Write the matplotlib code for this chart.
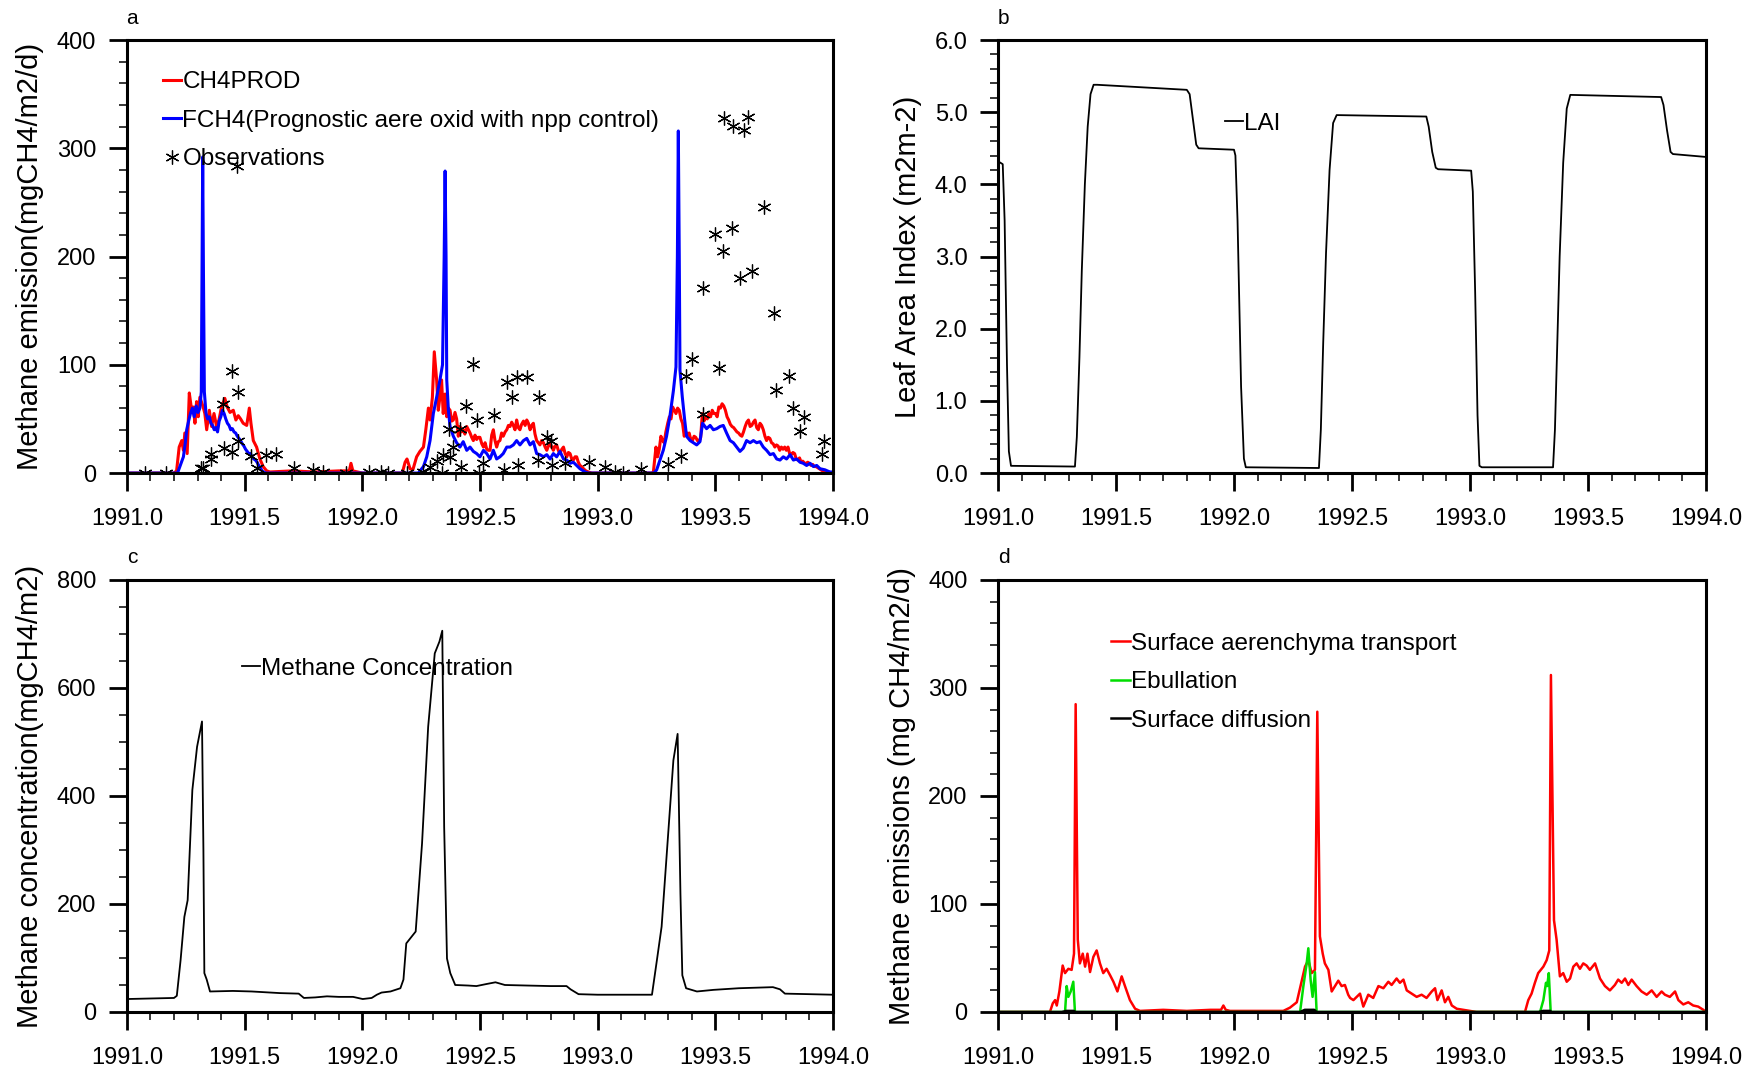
import matplotlib
matplotlib.use('Agg')
import matplotlib.pyplot as plt
from matplotlib.ticker import MultipleLocator, FormatStrFormatter

plt.rcParams['font.family'] = ['Liberation Sans', 'DejaVu Sans']

# ---- panel a: methane emission ----
t_prod = [1991.0, 1991.200, 1991.211, 1991.222, 1991.233, 1991.240, 1991.246, 1991.256, 1991.265, 1991.275,
          1991.282, 1991.289, 1991.296, 1991.303, 1991.310, 1991.324, 1991.331, 1991.339, 1991.350, 1991.360,
          1991.370, 1991.381, 1991.391, 1991.402, 1991.416, 1991.426, 1991.438, 1991.452, 1991.463, 1991.473,
          1991.483, 1991.494, 1991.509, 1991.520, 1991.527, 1991.537, 1991.551, 1991.565, 1991.579, 1991.594,
          1991.608, 1991.70, 1991.80, 1991.90, 1991.945, 1991.952, 1991.960, 1992.0, 1992.17, 1992.182,
          1992.190, 1992.203, 1992.215, 1992.231, 1992.245, 1992.260, 1992.270, 1992.281, 1992.288, 1992.298,
          1992.306, 1992.316, 1992.323, 1992.330, 1992.337, 1992.344, 1992.352, 1992.359, 1992.366, 1992.373,
          1992.380, 1992.387, 1992.394, 1992.401, 1992.408, 1992.415, 1992.422, 1992.429, 1992.436, 1992.444,
          1992.451, 1992.458, 1992.465, 1992.472, 1992.479, 1992.486, 1992.493, 1992.500, 1992.508, 1992.515,
          1992.522, 1992.529, 1992.536, 1992.543, 1992.550, 1992.557, 1992.564, 1992.571, 1992.578, 1992.585,
          1992.592, 1992.599, 1992.607, 1992.614, 1992.621, 1992.628, 1992.635, 1992.642, 1992.649, 1992.656,
          1992.663, 1992.670, 1992.677, 1992.685, 1992.692, 1992.699, 1992.706, 1992.713, 1992.720, 1992.727,
          1992.734, 1992.741, 1992.748, 1992.755, 1992.762, 1992.770, 1992.777, 1992.784, 1992.791, 1992.798,
          1992.805, 1992.812, 1992.819, 1992.826, 1992.833, 1992.840, 1992.848, 1992.855, 1992.862, 1992.869,
          1992.876, 1992.883, 1992.890, 1992.897, 1992.904, 1992.911, 1992.918, 1992.925, 1992.932, 1992.940,
          1992.950, 1992.961, 1992.975, 1993.230, 1993.237, 1993.248, 1993.255, 1993.262, 1993.269, 1993.276,
          1993.283, 1993.290, 1993.298, 1993.305, 1993.312, 1993.319, 1993.326, 1993.333, 1993.340, 1993.347,
          1993.354, 1993.361, 1993.368, 1993.375, 1993.382, 1993.389, 1993.396, 1993.403, 1993.410, 1993.417,
          1993.424, 1993.431, 1993.438, 1993.445, 1993.452, 1993.459, 1993.466, 1993.473, 1993.480, 1993.487,
          1993.494, 1993.501, 1993.508, 1993.515, 1993.522, 1993.529, 1993.536, 1993.543, 1993.550, 1993.557,
          1993.564, 1993.571, 1993.578, 1993.585, 1993.592, 1993.599, 1993.606, 1993.613, 1993.620, 1993.627,
          1993.634, 1993.641, 1993.648, 1993.655, 1993.662, 1993.669, 1993.676, 1993.683, 1993.690, 1993.697,
          1993.704, 1993.711, 1993.718, 1993.725, 1993.732, 1993.739, 1993.746, 1993.753, 1993.760, 1993.767,
          1993.774, 1993.781, 1993.788, 1993.795, 1993.802, 1993.809, 1993.816, 1993.823, 1993.830, 1993.837,
          1993.844, 1993.851, 1993.858, 1993.865, 1993.872, 1993.879, 1993.886, 1993.893, 1993.900, 1993.907,
          1993.914, 1993.921, 1993.928, 1993.935, 1993.942, 1993.949, 1993.956, 1993.963, 1993.970, 1993.980,
          1994.0]
ch4prod = [0, 0, 2, 24, 30, 21, 37, 18, 74, 58,
           61, 46, 66, 52, 70, 61, 55, 40, 58, 43,
           55, 43, 49, 61, 69, 61, 56, 58, 49, 53,
           50, 46, 44, 60, 46, 30, 24, 13, 6, 2,
           1, 2, 1, 2, 2, 9, 2, 0, 0, 10,
           13, 4, 3, 15, 20, 24, 40, 60, 49, 70,
           112, 86, 58, 70, 86, 55, 73, 52, 60, 58,
           48, 49, 56, 50, 34, 43, 38, 40, 36, 43,
           40, 37, 33, 30, 35, 31, 33, 33, 27, 24,
           28, 22, 21, 21, 35, 40, 30, 24, 29, 30,
           37, 34, 38, 40, 44, 43, 47, 44, 40, 49,
           42, 40, 45, 48, 44, 49, 46, 40, 44, 46,
           36, 30, 28, 26, 30, 28, 24, 21, 25, 28,
           24, 21, 25, 26, 21, 18, 22, 24, 18, 15,
           19, 18, 13, 12, 15, 15, 10, 7, 6, 4,
           2, 1, 0, 0, 1, 24, 15, 22, 34, 30,
           28, 38, 46, 52, 50, 61, 58, 55, 60, 58,
           50, 46, 34, 38, 35, 37, 31, 30, 34, 33,
           30, 29, 33, 55, 48, 52, 50, 55, 52, 58,
           55, 55, 52, 61, 60, 64, 62, 58, 52, 49,
           45, 43, 42, 40, 38, 37, 35, 34, 38, 43,
           47, 49, 43, 44, 47, 49, 42, 40, 46, 44,
           40, 34, 30, 33, 32, 28, 27, 24, 26, 25,
           21, 24, 22, 24, 21, 24, 18, 17, 19, 18,
           13, 12, 14, 10, 11, 9, 9, 10, 9, 7,
           8, 6, 6, 5, 4, 3, 2, 2, 1, 1,
           0]

t_fch4 = [1991.0, 1991.215, 1991.220, 1991.232, 1991.240, 1991.248, 1991.254, 1991.262, 1991.270, 1991.278,
          1991.286, 1991.294, 1991.302, 1991.310, 1991.316, 1991.319, 1991.322, 1991.325, 1991.329, 1991.336,
          1991.343, 1991.350, 1991.357, 1991.364, 1991.371, 1991.378, 1991.385, 1991.392, 1991.399, 1991.406,
          1991.413, 1991.420, 1991.427, 1991.434, 1991.441, 1991.448, 1991.455, 1991.462, 1991.469, 1991.476,
          1991.483, 1991.490, 1991.497, 1991.504, 1991.511, 1991.518, 1991.525, 1991.532, 1991.539, 1991.546,
          1991.553, 1991.560, 1991.567, 1991.574, 1991.581, 1991.590, 1992.238, 1992.260, 1992.274, 1992.288,
          1992.302, 1992.316, 1992.330, 1992.341, 1992.348, 1992.352, 1992.356, 1992.359, 1992.366, 1992.373,
          1992.387, 1992.401, 1992.415, 1992.429, 1992.444, 1992.458, 1992.472, 1992.486, 1992.500, 1992.515,
          1992.529, 1992.543, 1992.557, 1992.571, 1992.585, 1992.599, 1992.614, 1992.628, 1992.642, 1992.656,
          1992.670, 1992.685, 1992.699, 1992.713, 1992.727, 1992.741, 1992.755, 1992.770, 1992.784, 1992.798,
          1992.812, 1992.826, 1992.840, 1992.855, 1992.869, 1992.883, 1992.897, 1992.911, 1992.925, 1992.947,
          1992.960, 1993.240, 1993.251, 1993.265, 1993.279, 1993.293, 1993.307, 1993.322, 1993.333, 1993.339,
          1993.343, 1993.347, 1993.350, 1993.360, 1993.370, 1993.378, 1993.393, 1993.407, 1993.421, 1993.435,
          1993.446, 1993.463, 1993.478, 1993.492, 1993.506, 1993.520, 1993.534, 1993.548, 1993.563, 1993.577,
          1993.591, 1993.605, 1993.619, 1993.633, 1993.648, 1993.662, 1993.676, 1993.690, 1993.704, 1993.718,
          1993.733, 1993.747, 1993.761, 1993.775, 1993.789, 1993.803, 1993.818, 1993.832, 1993.846, 1993.860,
          1993.874, 1993.888, 1993.903, 1993.917, 1993.931, 1993.945, 1993.966, 1993.987, 1994.0]
fch4 = [0, 0, 3, 10, 15, 28, 40, 48, 55, 60,
        52, 62, 56, 60, 75, 180, 292, 190, 75, 55,
        50, 52, 46, 44, 40, 42, 38, 48, 52, 58,
        55, 50, 46, 44, 40, 41, 38, 37, 34, 32,
        30, 27, 25, 22, 20, 18, 18, 15, 13, 12,
        10, 7, 5, 2, 1, 0, 0, 6, 15, 30,
        55, 70, 86, 100, 200, 279, 200, 86, 58, 43,
        34, 28, 24, 29, 21, 24, 20, 18, 15, 21,
        18, 13, 21, 13, 15, 18, 24, 24, 26, 30,
        26, 30, 32, 26, 29, 18, 17, 15, 17, 13,
        18, 15, 20, 13, 12, 9, 10, 7, 4, 1,
        0, 0, 3, 12, 21, 34, 52, 76, 98, 200,
        316, 200, 95, 70, 49, 34, 30, 28, 26, 29,
        46, 41, 44, 40, 41, 43, 44, 37, 30, 28,
        24, 20, 23, 30, 28, 30, 28, 29, 24, 21,
        17, 18, 13, 12, 15, 13, 17, 12, 13, 10,
        9, 7, 9, 6, 7, 4, 3, 1, 1]

t_obs = [1991.076, 1991.167, 1991.315, 1991.325, 1991.356, 1991.359, 1991.410, 1991.412, 1991.445, 1991.448,
         1991.470, 1991.473, 1991.467, 1991.528, 1991.551, 1991.590, 1991.634, 1991.711, 1991.792, 1991.835,
         1991.930, 1992.030, 1992.079, 1992.110, 1992.190, 1992.260, 1992.288, 1992.316, 1992.337, 1992.344,
         1992.370, 1992.373, 1992.384, 1992.415, 1992.418, 1992.441, 1992.472, 1992.486, 1992.496, 1992.515,
         1992.561, 1992.602, 1992.614, 1992.635, 1992.659, 1992.699, 1992.752, 1992.663, 1992.748, 1992.784,
         1992.801, 1992.805, 1992.861, 1992.964, 1993.030, 1993.076, 1993.107, 1993.183, 1993.298, 1993.353,
         1993.374, 1993.400, 1993.446, 1993.449, 1993.499, 1993.515, 1993.534, 1993.538, 1993.570, 1993.577,
         1993.605, 1993.624, 1993.637, 1993.658, 1993.705, 1993.751, 1993.759, 1993.812, 1993.831, 1993.862,
         1993.876, 1993.953, 1993.963]
obs = [0, 0, 5, 5, 13, 18, 64, 23, 19, 94,
       30, 75, 284, 16, 5, 17, 18, 5, 3, 1,
       0, 1, 1, 0, 0, 1, 6, 11, 0, 17,
       41, 15, 24, 41, 6, 62, 101, 49, 0, 9,
       54, 3, 84, 70, 89, 89, 70, 7, 12, 33,
       30, 7, 9, 10, 6, 1, 0, 4, 8, 16,
       90, 105, 55, 171, 221, 97, 205, 328, 226, 321,
       180, 317, 329, 187, 246, 148, 77, 90, 60, 39,
       52, 18, 30]

# ---- panel b: LAI ----
t_lai = [1991.0, 1991.020, 1991.028, 1991.038, 1991.046, 1991.055, 1991.326, 1991.334, 1991.345, 1991.355,
         1991.368, 1991.380, 1991.392, 1991.405, 1991.420, 1991.800, 1991.812, 1991.826, 1991.840, 1991.850,
         1992.000, 1992.006, 1992.015, 1992.030, 1992.042, 1992.050, 1992.360, 1992.368, 1992.378, 1992.390,
         1992.405, 1992.420, 1992.435, 1992.815, 1992.825, 1992.840, 1992.855, 1992.865, 1993.005, 1993.012,
         1993.022, 1993.032, 1993.040, 1993.050, 1993.352, 1993.360, 1993.370, 1993.380, 1993.395, 1993.410,
         1993.425, 1993.810, 1993.820, 1993.835, 1993.850, 1993.860, 1994.0]
lai = [4.32, 4.28, 3.5, 1.5, 0.3, 0.10, 0.09, 0.5, 1.6, 2.8,
       4.0, 4.8, 5.25, 5.38, 5.38, 5.31, 5.25, 4.9, 4.55, 4.50,
       4.48, 4.40, 3.5, 1.2, 0.2, 0.08, 0.07, 0.6, 1.8, 3.05,
       4.2, 4.85, 4.96, 4.94, 4.8, 4.45, 4.23, 4.21, 4.19, 3.9,
       2.5, 0.8, 0.10, 0.08, 0.08, 0.6, 1.8, 3.0, 4.3, 5.05,
       5.24, 5.21, 5.1, 4.75, 4.45, 4.42, 4.38]

# ---- panel c: methane concentration ----
t_conc = [1991.0, 1991.100, 1991.200, 1991.212, 1991.228, 1991.244, 1991.258, 1991.278, 1991.298, 1991.319,
          1991.325, 1991.329, 1991.339, 1991.353, 1991.450, 1991.530, 1991.650, 1991.730, 1991.752, 1991.800,
          1991.850, 1991.900, 1991.961, 1992.002, 1992.040, 1992.062, 1992.082, 1992.120, 1992.162, 1992.175,
          1992.187, 1992.227, 1992.254, 1992.280, 1992.308, 1992.328, 1992.340, 1992.348, 1992.360, 1992.374,
          1992.395, 1992.450, 1992.485, 1992.530, 1992.566, 1992.606, 1992.700, 1992.800, 1992.868, 1992.885,
          1992.919, 1993.000, 1993.100, 1993.231, 1993.252, 1993.272, 1993.302, 1993.322, 1993.340, 1993.352,
          1993.360, 1993.376, 1993.422, 1993.493, 1993.600, 1993.745, 1993.775, 1993.796, 1993.900, 1994.0]
conc = [24, 25, 26, 30, 96, 176, 207, 411, 491, 538,
        300, 72, 60, 38, 39, 38, 35, 34, 26, 27,
        29, 28, 28, 24, 26, 32, 36, 38, 44, 60,
        127, 149, 312, 528, 664, 686, 706, 343, 99, 72,
        50, 49, 48, 52, 55, 50, 49, 48, 48, 42,
        33, 32, 32, 32, 96, 158, 343, 466, 515, 219,
        68, 44, 38, 41, 44, 46, 42, 34, 33, 32]

# ---- panel d: emission pathways ----
t_aer = [1991.0, 1991.220, 1991.232, 1991.242, 1991.249, 1991.260, 1991.274, 1991.284, 1991.298, 1991.312,
         1991.322, 1991.329, 1991.338, 1991.347, 1991.359, 1991.369, 1991.379, 1991.390, 1991.404, 1991.418,
         1991.432, 1991.446, 1991.460, 1991.475, 1991.489, 1991.506, 1991.524, 1991.538, 1991.559, 1991.581,
         1991.602, 1991.700, 1991.800, 1991.900, 1991.945, 1991.955, 1991.965, 1991.983, 1992.209, 1992.237,
         1992.266, 1992.287, 1992.301, 1992.315, 1992.329, 1992.343, 1992.353, 1992.364, 1992.376, 1992.385,
         1992.400, 1992.414, 1992.428, 1992.442, 1992.456, 1992.470, 1992.484, 1992.492, 1992.506, 1992.520,
         1992.534, 1992.548, 1992.569, 1992.590, 1992.612, 1992.633, 1992.654, 1992.668, 1992.689, 1992.703,
         1992.718, 1992.732, 1992.753, 1992.774, 1992.795, 1992.816, 1992.838, 1992.852, 1992.862, 1992.880,
         1992.894, 1992.908, 1992.923, 1992.944, 1992.972, 1993.000, 1993.028, 1993.233, 1993.247, 1993.261,
         1993.275, 1993.289, 1993.311, 1993.325, 1993.336, 1993.343, 1993.356, 1993.367, 1993.381, 1993.395,
         1993.410, 1993.424, 1993.438, 1993.452, 1993.466, 1993.480, 1993.494, 1993.508, 1993.530, 1993.551,
         1993.572, 1993.593, 1993.614, 1993.628, 1993.643, 1993.657, 1993.671, 1993.685, 1993.706, 1993.727,
         1993.749, 1993.770, 1993.791, 1993.812, 1993.826, 1993.847, 1993.869, 1993.883, 1993.904, 1993.925,
         1993.946, 1993.967, 1993.989, 1994.0]
aer = [0, 0, 8, 11, 6, 19, 43, 36, 40, 39,
       54, 285, 67, 45, 54, 42, 54, 37, 51, 57,
       45, 36, 40, 34, 28, 19, 33, 24, 11, 3,
       1, 2, 1, 2, 2, 6, 2, 1, 1, 4,
       9, 29, 42, 48, 36, 39, 278, 70, 54, 45,
       39, 19, 24, 29, 24, 25, 16, 13, 11, 14,
       17, 5, 16, 13, 24, 22, 28, 25, 31, 27,
       30, 20, 17, 14, 16, 13, 19, 22, 11, 20,
       9, 14, 6, 3, 2, 1, 0, 0, 11, 17,
       27, 36, 42, 48, 57, 312, 85, 67, 33, 36,
       28, 31, 42, 45, 40, 45, 43, 39, 45, 31,
       24, 20, 25, 30, 27, 31, 25, 30, 24, 19,
       16, 20, 14, 19, 16, 14, 19, 11, 7, 9,
       6, 5, 2, 0]

t_ebul = [1991.0, 1991.284, 1991.291, 1991.298, 1991.308, 1991.319, 1991.326, 1992.280, 1992.294, 1992.308,
          1992.315, 1992.325, 1992.333, 1992.343, 1992.350, 1993.297, 1993.311, 1993.322, 1993.327, 1993.334,
          1993.342, 1994.0]
ebul = [0, 0, 24, 14, 19, 28, 0, 0, 24, 45,
        59, 29, 14, 37, 0, 0, 11, 27, 24, 36,
        0, 0]

t_diff = [1991.0, 1991.270, 1991.290, 1991.320, 1991.330, 1992.280, 1992.300, 1992.340, 1992.350, 1993.290,
          1993.310, 1993.340, 1993.345, 1994.0]
diff = [0, 0, 1, 1, 0, 0, 2, 2, 0, 0,
        1, 1, 0, 0]

fig = plt.figure(figsize=(17.58, 10.82), dpi=100)
ax_a = fig.add_axes([0.0722, 0.5628, 0.4016, 0.4002])
ax_b = fig.add_axes([0.5677, 0.5628, 0.4027, 0.4002])
ax_c = fig.add_axes([0.0722, 0.0647, 0.4016, 0.3993])
ax_d = fig.add_axes([0.5677, 0.0647, 0.4027, 0.3993])

def style(ax, ymax, ymaj, ymin, yfmt, ylabel):
    ax.set_xlim(1991.0, 1994.0)
    ax.set_ylim(0, ymax)
    ax.xaxis.set_major_locator(MultipleLocator(0.5))
    ax.xaxis.set_minor_locator(MultipleLocator(0.1))
    ax.xaxis.set_major_formatter(FormatStrFormatter('%.1f'))
    ax.yaxis.set_major_locator(MultipleLocator(ymaj))
    ax.yaxis.set_minor_locator(MultipleLocator(ymin))
    ax.yaxis.set_major_formatter(FormatStrFormatter(yfmt))
    ax.tick_params(which='major', direction='out', length=13, width=2.0, labelsize=17, pad=9)
    ax.tick_params(which='minor', direction='out', length=6, width=1.1)
    ax.tick_params(axis='x', which='major', pad=12)
    for sp in ax.spines.values():
        sp.set_linewidth(2.2)
    ax.set_ylabel(ylabel, fontsize=21, labelpad=9)

leg_kw = dict(loc='upper left', frameon=False, fontsize=17.5, handlelength=0.75,
              handletextpad=0.05, borderpad=0, borderaxespad=0, labelspacing=0.68, numpoints=1)

# a
ax_a.plot(t_prod, ch4prod, color='red', lw=2.2, label='CH4PROD')
ax_a.plot(t_fch4, fch4, color='blue', lw=2.2, label='FCH4(Prognostic aere oxid with npp control)')
ax_a.plot(t_obs, obs, linestyle='none', marker=(6, 2, 0), markersize=10, color='black',
          markeredgewidth=0.9, label='Observations')
style(ax_a, 400, 100, 20, '%d', 'Methane emission(mgCH4/m2/d)')
ax_a.legend(bbox_to_anchor=(0.051, 0.928), **leg_kw)

# b
ax_b.plot(t_lai, lai, color='black', lw=1.3, label='LAI')
style(ax_b, 6.0, 1.0, 0.2, '%.1f', 'Leaf Area Index (m2m-2)')
ax_b.legend(bbox_to_anchor=(0.32, 0.832), **leg_kw)

# c
ax_c.plot(t_conc, conc, color='black', lw=1.3, label='Methane Concentration')
style(ax_c, 800, 200, 50, '%d', 'Methane concentration(mgCH4/m2)')
ax_c.legend(bbox_to_anchor=(0.163, 0.82), **leg_kw)

# d
ax_d.plot(t_aer, aer, color='red', lw=1.8, label='Surface aerenchyma transport')
ax_d.plot(t_ebul, ebul, color='#00dd00', lw=1.8, label='Ebullation')
ax_d.plot(t_diff, diff, color='black', lw=1.8, label='Surface diffusion')
style(ax_d, 400, 100, 20, '%d', 'Methane emissions (mg CH4/m2/d)')
ax_d.legend(bbox_to_anchor=(0.16, 0.878), **leg_kw)

for lab, x, y in [('a', 0.075, 0.983), ('b', 0.571, 0.983), ('c', 0.075, 0.485), ('d', 0.571, 0.485)]:
    fig.text(x, y, lab, fontsize=15, ha='center', va='center')

fig.savefig('out.png', dpi=100)
